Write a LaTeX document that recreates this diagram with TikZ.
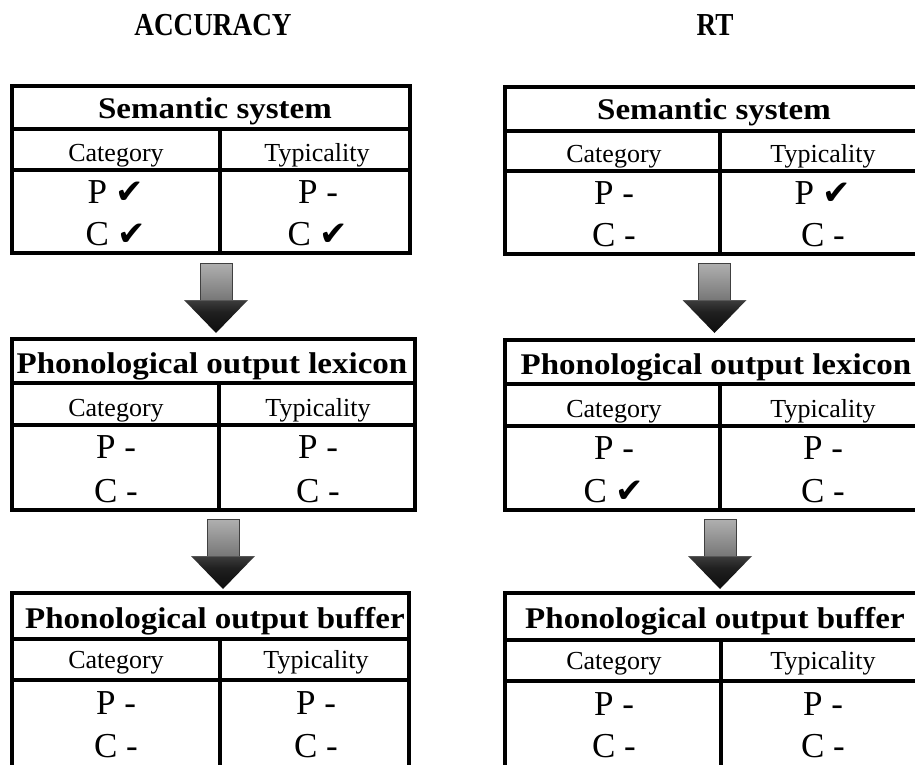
\documentclass[tikz,border=0pt]{standalone}
\usepackage{fontspec}
\setmainfont{Liberation Serif}
\newfontfamily\headfont[FakeStretch=1.1]{Liberation Serif}
\newfontfamily\titlefont[FakeStretch=0.85]{Liberation Serif}
\newfontfamily\tickfont{DejaVu Sans}
\usetikzlibrary{calc}

\definecolor{shafttop}{HTML}{B0B0B0}
\definecolor{shaftbot}{HTML}{787878}
\definecolor{headtop}{HTML}{3C3C3C}
\definecolor{headmid}{HTML}{202020}
\definecolor{tipc}{HTML}{0C0C0C}
\definecolor{shaftline}{HTML}{404040}
\pgfdeclareverticalshading{arrowshade}{100bp}{color(0bp)=(tipc); color(25bp)=(tipc); color(40bp)=(headmid); color(48.3bp)=(headtop); color(48.9bp)=(shaftbot); color(75bp)=(shafttop); color(100bp)=(shafttop)}

\newcommand\ok{{\tickfont\fontsize{34}{34}\selectfont ✔}}

\tikzset{
  tablebox/.style={draw, line width=3.2pt, inner sep=0pt, outer sep=0pt},
  gridline/.style={line width=3.2pt},
  titletext/.style={font=\titlefont\bfseries\fontsize{32}{32}\selectfont, anchor=base, inner sep=0pt},
  hdrtext/.style={font=\headfont\bfseries\fontsize{30}{30}\selectfont, anchor=base, inner sep=0pt},
  subtext/.style={font=\fontsize{26}{26}\selectfont, anchor=base, inner sep=0pt},
  valtext/.style={font=\fontsize{35}{35}\selectfont, anchor=base, inner sep=0pt},
  shaftedge/.style={draw=shaftline, line width=1pt},
}

% #1 name, #2 left, #3 top, #4 header rule, #5 column-head rule, #6 divider, #7 right, #8 bottom
\newcommand\gridtable[8]{%
  \node[tablebox, anchor=north west, minimum width={(#7-#2)*1pt}, minimum height={(#8-#3)*1pt}] (#1) at (#2,#3) {};
  \draw[gridline] (#1.west |- 0,#4) -- (#1.east |- 0,#4);
  \draw[gridline] (#1.west |- 0,#5) -- (#1.east |- 0,#5);
  \draw[gridline] (#6,#4) -- (#1.south -| #6,0);
}

% #1 name of the arrow, #2 top centre of its shaft
\newcommand\blockarrow[2]{%
  \coordinate (#1) at #2;
  \begin{scope}[shift={(#1)}]
    \shade[shading=arrowshade] (-16,0) -- (16,0) -- (16,37) -- (32,37) -- (0,70) -- (-32,37) -- (-16,37) -- cycle;
    \draw[shaftedge] (-16,37) -- (-16,0) -- (16,0) -- (16,37);
  \end{scope}
}

\begin{document}
\begin{tikzpicture}[x=1pt, y=-1pt]
  \useasboundingbox (0,0) rectangle (915,765);
  \fill[white] (0,0) rectangle (915,765);

  % column titles
  \node[titletext] (ttlAcc) at (213,36) {ACCURACY};
  \node[titletext] (ttlRT) at (715,36) {RT};

  % ---------- accuracy column ----------
  \gridtable{accSem}{12}{86}{129}{170}{220}{410}{253}
  \node[hdrtext] (accSemH) at (215,119) {Semantic system};
  \node[subtext] (accSemA) at (116,161) {Category};
  \node[subtext] (accSemB) at (317,161) {Typicality};
  \node[valtext] (accSemA1) at (116,203) {P \ok};
  \node[valtext] (accSemA2) at (116,245) {C \ok};
  \node[valtext] (accSemB1) at (318,203) {P -};
  \node[valtext] (accSemB2) at (318,245) {C \ok};

  \gridtable{accLex}{12}{339}{383}{425}{219}{415}{510}
  \node[hdrtext] (accLexH) at (212,373) {Phonological output lexicon};
  \node[subtext] (accLexA) at (116,416) {Category};
  \node[subtext] (accLexB) at (318,416) {Typicality};
  \node[valtext] (accLexA1) at (116,458) {P -};
  \node[valtext] (accLexA2) at (116,502) {C -};
  \node[valtext] (accLexB1) at (318,458) {P -};
  \node[valtext] (accLexB2) at (318,502) {C -};

  \gridtable{accBuf}{12}{593}{639}{680}{220}{409}{767}
  \node[hdrtext] (accBufH) at (215,628) {Phonological output buffer};
  \node[subtext] (accBufA) at (116,668) {Category};
  \node[subtext] (accBufB) at (316,668) {Typicality};
  \node[valtext] (accBufA1) at (116,714) {P -};
  \node[valtext] (accBufA2) at (116,757) {C -};
  \node[valtext] (accBufB1) at (316,714) {P -};
  \node[valtext] (accBufB2) at (316,757) {C -};

  \blockarrow{accArrA}{($(accSem.south west)+(204,10)$)}
  \blockarrow{accArrB}{($(accLex.south west)+(211,9)$)}

  % ---------- RT column ----------
  \gridtable{rtSem}{505}{87}{131}{171}{720}{922}{254}
  \node[hdrtext] (rtSemH) at (714,120) {Semantic system};
  \node[subtext] (rtSemA) at (614,162) {Category};
  \node[subtext] (rtSemB) at (823,162) {Typicality};
  \node[valtext] (rtSemA1) at (614,204) {P -};
  \node[valtext] (rtSemA2) at (614,246) {C -};
  \node[valtext] (rtSemB1) at (823,204) {P \ok};
  \node[valtext] (rtSemB2) at (823,246) {C -};

  \gridtable{rtLex}{505}{340}{384}{426}{720}{922}{510}
  \node[hdrtext] (rtLexH) at (716,374) {Phonological output lexicon};
  \node[subtext] (rtLexA) at (614,417) {Category};
  \node[subtext] (rtLexB) at (823,417) {Typicality};
  \node[valtext] (rtLexA1) at (614,459) {P -};
  \node[valtext] (rtLexA2) at (614,502) {C \ok};
  \node[valtext] (rtLexB1) at (823,459) {P -};
  \node[valtext] (rtLexB2) at (823,502) {C -};

  \gridtable{rtBuf}{505}{593}{640}{681}{721}{922}{767}
  \node[hdrtext] (rtBufH) at (715,628) {Phonological output buffer};
  \node[subtext] (rtBufA) at (614,669) {Category};
  \node[subtext] (rtBufB) at (823,669) {Typicality};
  \node[valtext] (rtBufA1) at (614,715) {P -};
  \node[valtext] (rtBufA2) at (614,757) {C -};
  \node[valtext] (rtBufB1) at (823,715) {P -};
  \node[valtext] (rtBufB2) at (823,757) {C -};

  \blockarrow{rtArrA}{($(rtSem.south west)+(209.5,9)$)}
  \blockarrow{rtArrB}{($(rtLex.south west)+(215,9)$)}
\end{tikzpicture}
\end{document}
